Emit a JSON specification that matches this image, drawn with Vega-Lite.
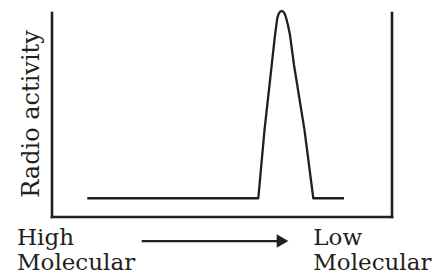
{
  "$schema": "https://vega.github.io/schema/vega-lite/v6.json",
  "width": 340,
  "height": 204,
  "autosize": {"type": "none"},
  "padding": {"left": 52, "top": 13, "right": 50, "bottom": 63},
  "background": "white",
  "config": {"view": {"stroke": null}},
  "layer": [
    {
      "data": {"values": [
        {"x": 0, "y": 0, "x2": 0, "y2": 100},
        {"x": 340, "y": 0, "x2": 340, "y2": 100},
        {"x": 0, "y": 0, "x2": 340, "y2": 0}
      ]},
      "mark": {"type": "rule", "color": "#231f20", "strokeWidth": 2.6, "strokeCap": "square"},
      "encoding": {
        "x": {"field": "x", "type": "quantitative", "scale": {"domain": [0, 340], "nice": false, "zero": false}, "axis": null},
        "y": {"field": "y", "type": "quantitative", "scale": {"domain": [0, 100], "nice": false, "zero": false}, "axis": null},
        "x2": {"field": "x2"},
        "y2": {"field": "y2"}
      }
    },
    {
      "data": {"values": [
        {"i": 0, "x": 35.3, "y": 9.2},
        {"i": 1, "x": 206.3, "y": 9.2},
        {"i": 2, "x": 212.5, "y": 42.6},
        {"i": 3, "x": 219.7, "y": 74.5},
        {"i": 4, "x": 223, "y": 89.2},
        {"i": 5, "x": 225.3, "y": 97.5},
        {"i": 6, "x": 226.6, "y": 99.6},
        {"i": 7, "x": 228, "y": 100.6},
        {"i": 8, "x": 229.7, "y": 101},
        {"i": 9, "x": 231.4, "y": 100.6},
        {"i": 10, "x": 232.8, "y": 99.6},
        {"i": 11, "x": 234, "y": 97.8},
        {"i": 12, "x": 236, "y": 94},
        {"i": 13, "x": 238, "y": 89.2},
        {"i": 14, "x": 242, "y": 74.5},
        {"i": 15, "x": 252.5, "y": 42.6},
        {"i": 16, "x": 261.3, "y": 9.2},
        {"i": 17, "x": 292, "y": 9.2}
      ]},
      "mark": {"type": "line", "color": "#231f20", "strokeWidth": 2.3, "strokeJoin": "round"},
      "encoding": {
        "x": {"field": "x", "type": "quantitative"},
        "y": {"field": "y", "type": "quantitative"},
        "order": {"field": "i", "type": "quantitative"}
      }
    },
    {
      "data": {"values": [{"x": 89.7, "x2": 227, "y": -11.8}]},
      "mark": {"type": "rule", "color": "#231f20", "strokeWidth": 2.2},
      "encoding": {
        "x": {"field": "x", "type": "quantitative"},
        "x2": {"field": "x2"},
        "y": {"field": "y", "type": "quantitative"}
      }
    },
    {
      "data": {"values": [{"x": 230.5, "y": -11.8}]},
      "mark": {"type": "point", "shape": "triangle-right", "filled": true, "color": "#231f20", "opacity": 1, "size": 182},
      "encoding": {
        "x": {"field": "x", "type": "quantitative"},
        "y": {"field": "y", "type": "quantitative"}
      }
    },
    {
      "data": {"values": [
        {"label": "High", "x": -35, "y": -13.7},
        {"label": "Molecular", "x": -35, "y": -26},
        {"label": "Low", "x": 261.3, "y": -13.7},
        {"label": "Molecular", "x": 261.3, "y": -26}
      ]},
      "mark": {"type": "text", "align": "left", "baseline": "alphabetic", "font": "DejaVu Serif", "fontSize": 23, "color": "#231f20"},
      "encoding": {
        "x": {"field": "x", "type": "quantitative"},
        "y": {"field": "y", "type": "quantitative"},
        "text": {"field": "label"}
      }
    },
    {
      "data": {"values": [{"label": "Radio activity", "x": -12.7, "y": 50.5}]},
      "mark": {"type": "text", "align": "center", "baseline": "alphabetic", "angle": 270, "font": "DejaVu Serif", "fontSize": 24, "color": "#231f20"},
      "encoding": {
        "x": {"field": "x", "type": "quantitative"},
        "y": {"field": "y", "type": "quantitative"},
        "text": {"field": "label"}
      }
    }
  ]
}
